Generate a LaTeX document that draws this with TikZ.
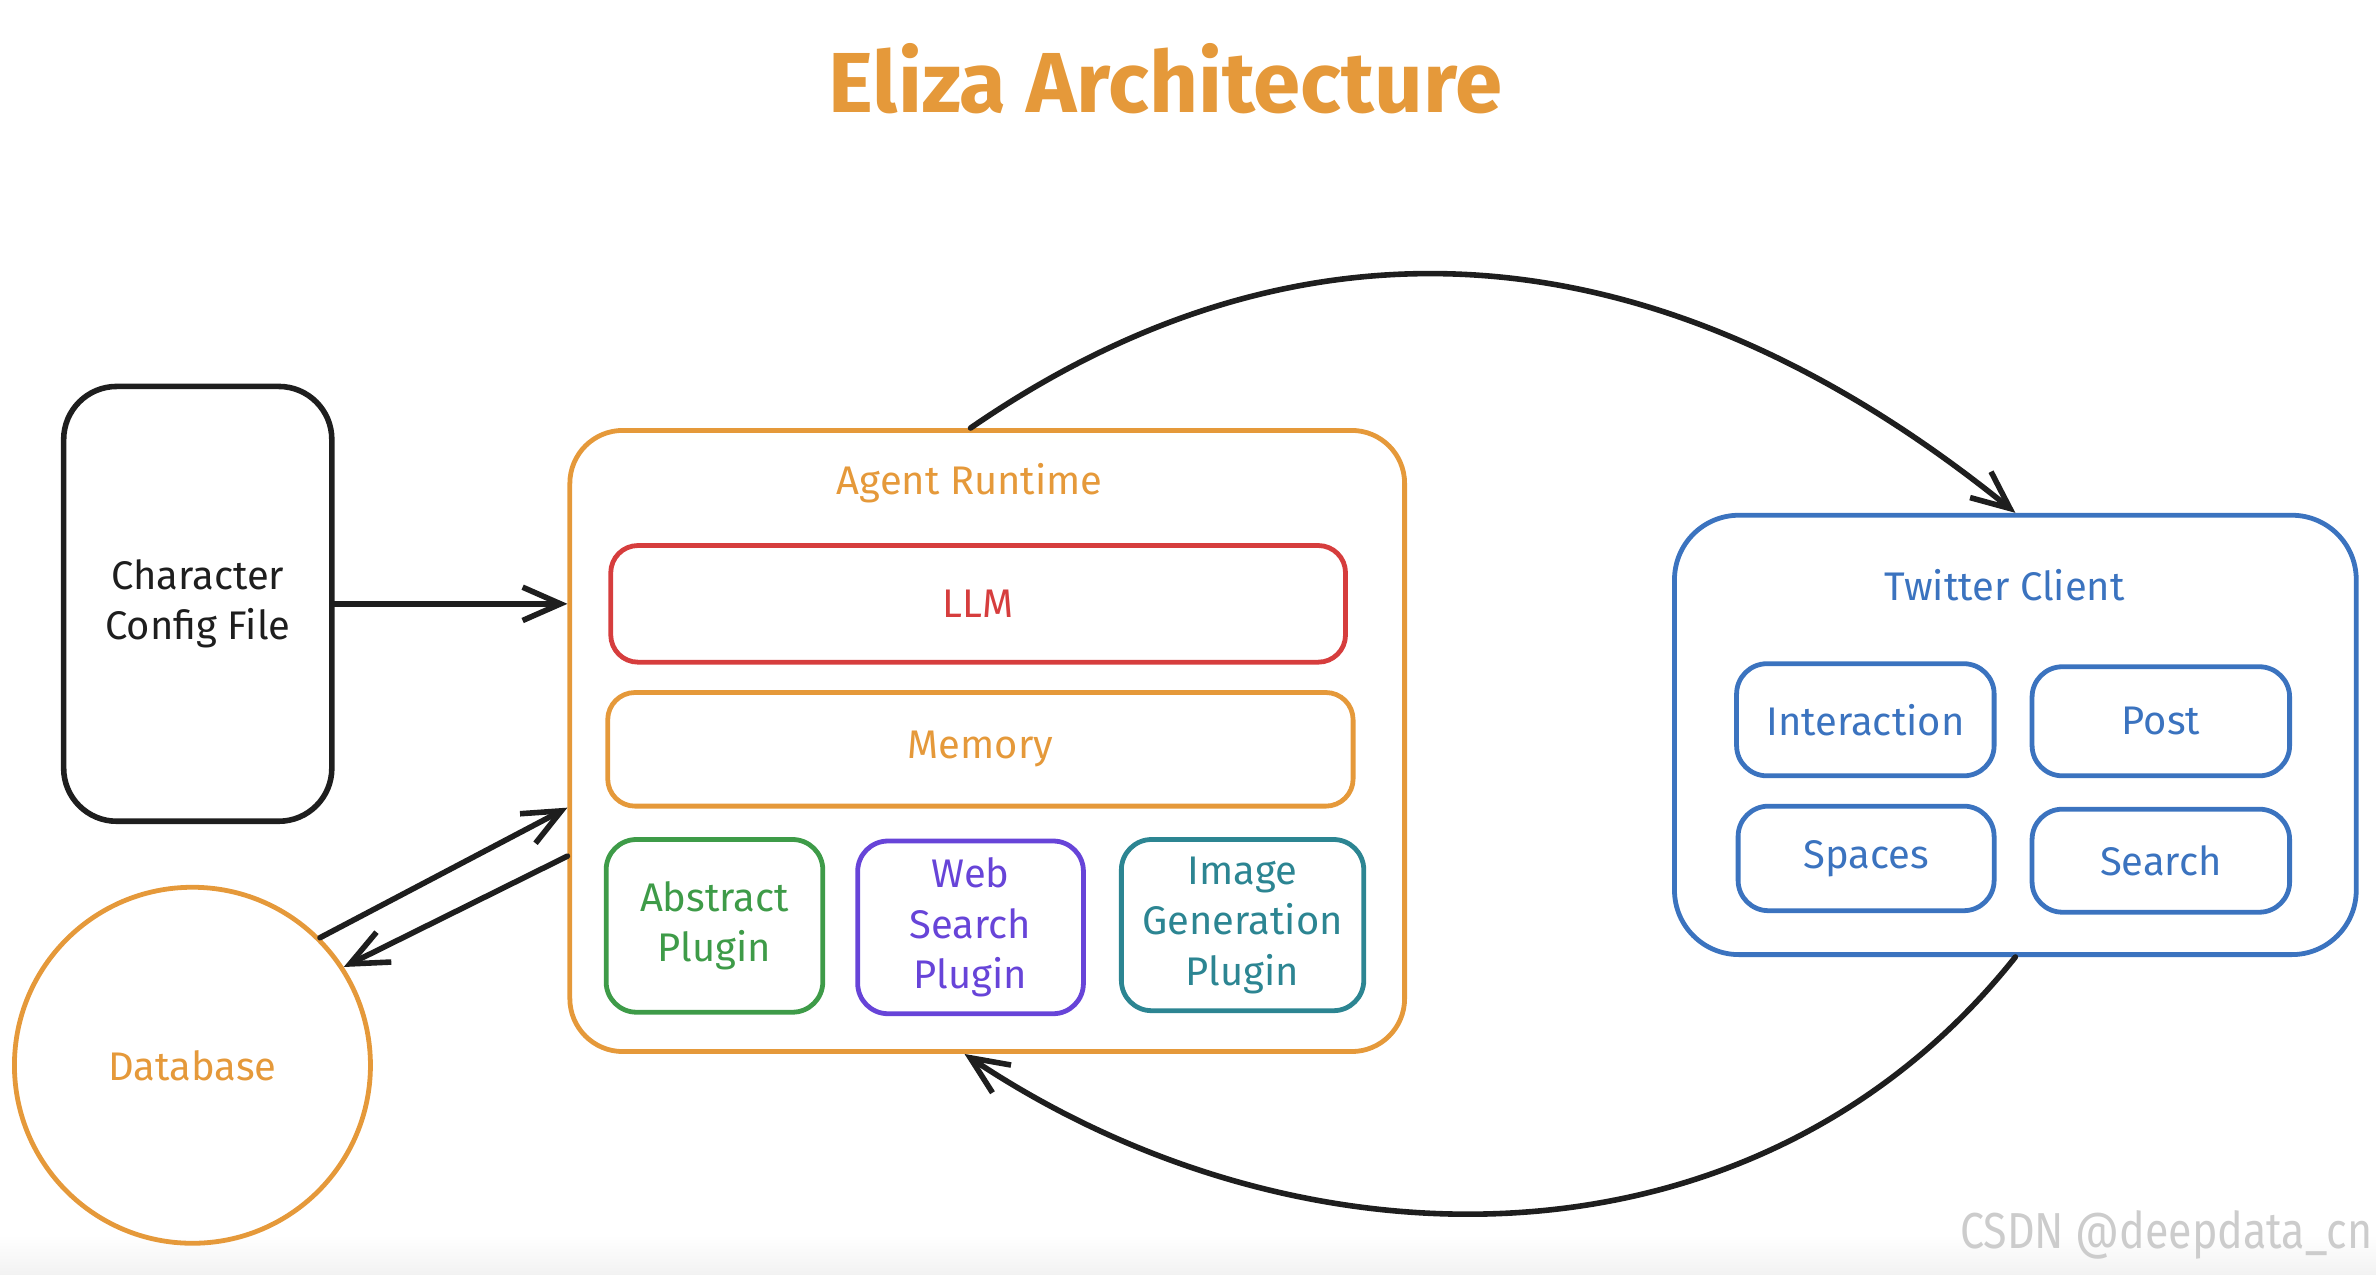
\documentclass[tikz,border=0pt]{standalone}
\usepackage{fontspec}
\setmainfont{Fira Sans}
\usetikzlibrary{arrows.meta,positioning,shapes}

\definecolor{elzorange}{HTML}{E5993A}
\definecolor{elzred}{HTML}{D63D3D}
\definecolor{elzgreen}{HTML}{3E9B48}
\definecolor{elzpurple}{HTML}{6744D8}
\definecolor{elzteal}{HTML}{2C8592}
\definecolor{elzblue}{HTML}{3B73BF}
\definecolor{elzink}{HTML}{1E1E1E}

\begin{document}
\begin{tikzpicture}[x=0.02cm, y=-0.02cm,
      >={Straight Barb[length=5mm,width=4.4mm]},
      box/.style={draw=#1, text=#1, rounded corners=0.4cm, line width=1.8pt,
        inner sep=0pt, align=center, font=\fontsize{15}{19}\selectfont},
      label/.style={text=#1, font=\fontsize{15}{19}\selectfont},
      link/.style={draw=elzink, line width=2.1pt, ->, line cap=round}]
%      \draw[help lines] (0,0) grid[step=100] (1568,841);
      \useasboundingbox (0,0) rectangle (1568,841);
      \fill[top color=white, bottom color=black!5, draw=none] (0,815) rectangle (1568,841);

      \node[text=elzorange, font=\fontsize{32}{40}\selectfont\bfseries] (title) at (769,52) {Eliza Architecture};

      \node[box=elzink, line width=2.1pt, rounded corners=0.7cm, minimum width=3.54cm, minimum height=5.74cm]
        (char) at (130.5,398.5) {Character\\Config File};
      \node[box=elzorange, circle, minimum size=4.7cm] (db) at (127,703) {Database};

      % agent runtime
      \node[box=elzorange, rounded corners=0.7cm, minimum width=11.02cm, minimum height=8.2cm] (agent) at (651.5,489) {};
      \node[label=elzorange] (agentlbl) at (640,319) {Agent Runtime};
      \node[box=elzred, rounded corners=0.36cm, minimum width=9.7cm, minimum height=1.54cm] (llm) at (645.5,398.5) {LLM};
      \node[box=elzorange, rounded corners=0.36cm, minimum width=9.84cm, minimum height=1.5cm] (mem) at (647,494.5) {Memory};
      \node[box=elzgreen, minimum width=2.86cm, minimum height=2.28cm] (abstract) at (471.5,611) {Abstract\\Plugin};
      \node[box=elzpurple, minimum width=2.98cm, minimum height=2.28cm] (websearch) at (640.5,612) {Web\\Search\\Plugin};
      \node[box=elzteal, minimum width=3.2cm, minimum height=2.26cm] (imagegen) at (820,610.5) {Image\\Generation\\Plugin};

      % twitter client
      \node[box=elzblue, rounded corners=0.85cm, minimum width=9cm, minimum height=5.8cm] (twitter) at (1330,485) {};
      \node[label=elzblue] (twitterlbl) at (1323,386) {Twitter Client};
      \node[box=elzblue, minimum width=3.4cm, minimum height=1.48cm] (interaction) at (1231,475) {Interaction};
      \node[box=elzblue, minimum width=3.4cm, minimum height=1.44cm] (post) at (1426,476) {Post};
      \node[box=elzblue, minimum width=3.38cm, minimum height=1.38cm] (spaces) at (1231.5,566.5) {Spaces};
      \node[box=elzblue, minimum width=3.4cm, minimum height=1.36cm] (search) at (1426,568) {Search};

      \draw[link] (char.east) -- (char.east -| agent.west);
      \draw[link] (db.45) -- ([yshift=-0.88cm]agent.west);
      \draw[link] ([yshift=-1.52cm]agent.west) -- (db.33);
      \draw[link] ([xshift=-0.22cm]agent.north) .. controls (850,138) and (1085,140) .. (twitter.north);
      \draw[link] (twitter.south) .. controls (1160,845) and (860,845) .. ([xshift=-0.3cm]agent.south);

      \node[text=black!20, font=\fontsize{19}{22}\selectfont, xscale=0.85, anchor=east, inner sep=0pt]
        (mark) at (1566,815) {CSDN @deepdata\_cn};
\end{tikzpicture}
\end{document}
